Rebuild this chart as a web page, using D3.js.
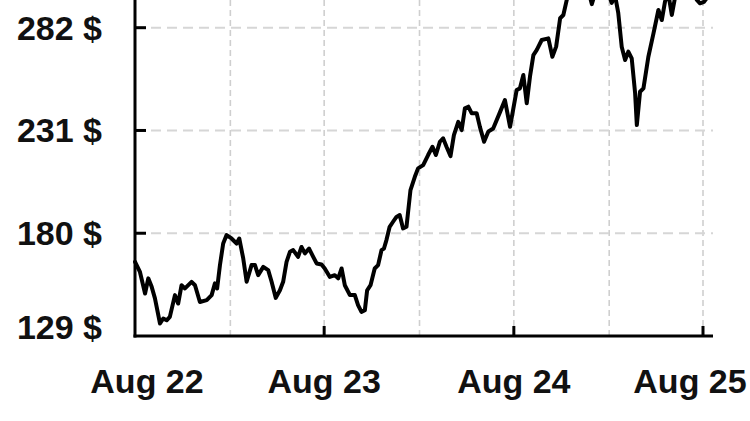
<!DOCTYPE html>
<html>
<head>
<meta charset="utf-8">
<script src="https://cdn.jsdelivr.net/npm/d3@7"></script>
<style>
  html, body { margin: 0; padding: 0; background: #fff; }
  svg { display: block; }
  text { font-family: "Liberation Sans", Arial, Helvetica, sans-serif; font-weight: bold; fill: #111; }
</style>
</head>
<body>
<svg id="chart" width="750" height="421"></svg>
<script>
// ---- Data ----
// dates as decimal years, prices in $
const years = [
  2022.581, 2022.607, 2022.634, 2022.651, 2022.669, 2022.686, 2022.713, 2022.730, 2022.748, 2022.765,
  2022.792, 2022.809, 2022.827, 2022.845, 2022.880, 2022.898, 2022.924, 2022.960, 2022.986, 2023.003,
  2023.015, 2023.030, 2023.047, 2023.065, 2023.091, 2023.118, 2023.132, 2023.153, 2023.171, 2023.197,
  2023.215, 2023.232, 2023.259, 2023.285, 2023.303, 2023.325, 2023.347, 2023.364, 2023.382, 2023.400,
  2023.417, 2023.443, 2023.461, 2023.479, 2023.501, 2023.523, 2023.541, 2023.567, 2023.584, 2023.611,
  2023.637, 2023.655, 2023.673, 2023.690, 2023.717, 2023.743, 2023.760, 2023.778, 2023.796, 2023.808,
  2023.826, 2023.848, 2023.866, 2023.884, 2023.897, 2023.910, 2023.927, 2023.945, 2023.963, 2023.980,
  2023.998, 2024.016, 2024.037, 2024.060, 2024.077, 2024.104, 2024.130, 2024.153, 2024.171, 2024.192,
  2024.209, 2024.227, 2024.248, 2024.266, 2024.289, 2024.307, 2024.324, 2024.342, 2024.360, 2024.386,
  2024.403, 2024.425, 2024.447, 2024.473, 2024.509, 2024.535, 2024.562, 2024.597, 2024.614, 2024.632,
  2024.650, 2024.667, 2024.685, 2024.703, 2024.729, 2024.764, 2024.785, 2024.805, 2024.826, 2024.843,
  2024.861, 2024.884, 2024.910, 2024.936, 2024.963, 2024.993, 2025.016, 2025.042, 2025.068, 2025.098,
  2025.116, 2025.133, 2025.151, 2025.169, 2025.186, 2025.204, 2025.222, 2025.231, 2025.248, 2025.266,
  2025.292, 2025.319, 2025.345, 2025.363, 2025.380, 2025.396, 2025.416, 2025.433, 2025.460, 2025.491,
  2025.523, 2025.548, 2025.565, 2025.586, 2025.607
];
const prices = [
  165.8, 160.8, 150.1, 157.6, 153.4, 147.8, 135.2, 137.7, 136.8, 138.5,
  149.3, 145.1, 154.2, 152.6, 155.9, 154.2, 145.9, 146.8, 149.3, 155.1,
  152.6, 164.2, 174.9, 179.1, 177.4, 174.9, 177.4, 167.5, 155.9, 164.2,
  164.2, 159.2, 163.3, 161.7, 155.9, 147.9, 151.7, 155.9, 165.8, 170.8,
  171.6, 168.3, 173.2, 170.0, 172.4, 168.3, 165.0, 164.5, 162.5, 158.3,
  159.2, 157.6, 162.5, 154.2, 149.3, 149.3, 144.3, 141.0, 141.8, 151.7,
  154.2, 162.5, 164.2, 171.6, 172.4, 176.6, 183.2, 185.7, 188.1, 189.0,
  182.4, 183.2, 201.4, 208.0, 212.2, 213.8, 218.8, 222.9, 218.8, 225.4,
  227.1, 222.9, 218.3, 228.7, 235.3, 231.2, 242.0, 242.8, 239.5, 239.5,
  232.8, 225.4, 230.4, 232.0, 240.1, 246.1, 232.8, 251.1, 251.9, 258.5,
  244.5, 257.7, 268.4, 271.0, 275.9, 276.7, 267.6, 272.6, 286.7, 288.3,
  295.8, 303.0, 308.0, 303.0, 305.0, 293.7, 300.8, 305.7, 303.0, 294.3,
  298.0, 289.2, 272.6, 266.0, 270.1, 266.8, 249.4, 233.7, 250.2, 251.9,
  267.6, 279.2, 290.8, 285.8, 294.9, 299.7, 288.3, 297.0, 302.0, 305.0,
  301.0, 295.8, 294.1, 294.8, 297.5
];
const yTickValues = [129, 180, 231, 282];
const yTickLabels = ["129 $", "180 $", "231 $", "282 $"];
const xTickLabels = ["Aug 22", "Aug 23", "Aug 24", "Aug 25"];

// ---- Helpers ----
function yearToDate(v) {
  const yr = Math.floor(v);
  const start = Date.UTC(yr, 0, 1), end = Date.UTC(yr + 1, 0, 1);
  return new Date(start + (v - yr) * (end - start));
}
const data = years.map((v, i) => ({ date: yearToDate(v), value: prices[i] }));

// ---- Layout ----
const svg = d3.select("#chart");
const plotLeft = 135, plotRight = 713, plotBottom = 336, plotTop = 0;

const t0 = new Date(Date.UTC(2022, 7, 1)), t1 = new Date(Date.UTC(2025, 7, 1));
const x = d3.scaleUtc().domain([t0, t1]).range([plotLeft, 703]);
const y = d3.scaleLinear().domain([129, 282]).range([plotBottom, 27.7]);

const gridTicks = d3.utcMonth.range(t0, new Date(Date.UTC(2025, 7, 2)), 6);
const labelTicks = gridTicks.filter(d => d.getUTCMonth() === 7);

// gridlines
svg.append("g").selectAll("line")
  .data(gridTicks.filter(d => x(d) > plotLeft + 1))
  .join("line")
  .attr("x1", d => x(d)).attr("x2", d => x(d))
  .attr("y1", plotTop).attr("y2", plotBottom)
  .attr("stroke", "#cfcfcf").attr("stroke-width", 1.6)
  .attr("stroke-dasharray", "6,4");

svg.append("g").selectAll("line")
  .data(yTickValues.filter(v => v !== 129))
  .join("line")
  .attr("x1", plotLeft).attr("x2", plotRight)
  .attr("y1", d => y(d)).attr("y2", d => y(d))
  .attr("stroke", "#d6d6d6").attr("stroke-width", 2)
  .attr("stroke-dasharray", "10,6");

// line
const line = d3.line()
  .x(d => x(d.date))
  .y(d => y(d.value))
  .curve(d3.curveLinear);

svg.append("path")
  .datum(data)
  .attr("d", line)
  .attr("fill", "none")
  .attr("stroke", "#000")
  .attr("stroke-width", 4)
  .attr("stroke-linejoin", "round")
  .attr("stroke-linecap", "round");

// axes lines
svg.append("line")
  .attr("x1", plotLeft).attr("x2", plotLeft).attr("y1", plotTop).attr("y2", plotBottom + 1.5)
  .attr("stroke", "#000").attr("stroke-width", 3);
svg.append("line")
  .attr("x1", plotLeft - 1.5).attr("x2", plotRight).attr("y1", plotBottom).attr("y2", plotBottom)
  .attr("stroke", "#000").attr("stroke-width", 3);

// y ticks (inward)
svg.append("g").selectAll("line")
  .data(yTickValues.filter(v => v !== 129))
  .join("line")
  .attr("x1", plotLeft).attr("x2", plotLeft + 11)
  .attr("y1", d => y(d)).attr("y2", d => y(d))
  .attr("stroke", "#000").attr("stroke-width", 3);

// x ticks (inward)
svg.append("g").selectAll("line")
  .data(labelTicks.filter(d => x(d) > plotLeft + 1))
  .join("line")
  .attr("x1", d => x(d)).attr("x2", d => x(d))
  .attr("y1", plotBottom).attr("y2", plotBottom - 10)
  .attr("stroke", "#000").attr("stroke-width", 3);

// y labels
svg.append("g").selectAll("text")
  .data(yTickValues)
  .join("text")
  .attr("x", 102)
  .attr("y", (d, i) => y(d) + (i === 0 ? -9 : 0))
  .attr("dy", "0.35em")
  .attr("text-anchor", "end")
  .attr("font-size", 34)
  .text((d, i) => yTickLabels[i]);

// x labels
const xOffsets = [12, 0, 0, -13];
svg.append("g").selectAll("text")
  .data(labelTicks)
  .join("text")
  .attr("x", (d, i) => x(d) + xOffsets[i])
  .attr("y", 393)
  .attr("text-anchor", "middle")
  .attr("font-size", 34)
  .text((d, i) => xTickLabels[i]);
</script>
</body>
</html>
